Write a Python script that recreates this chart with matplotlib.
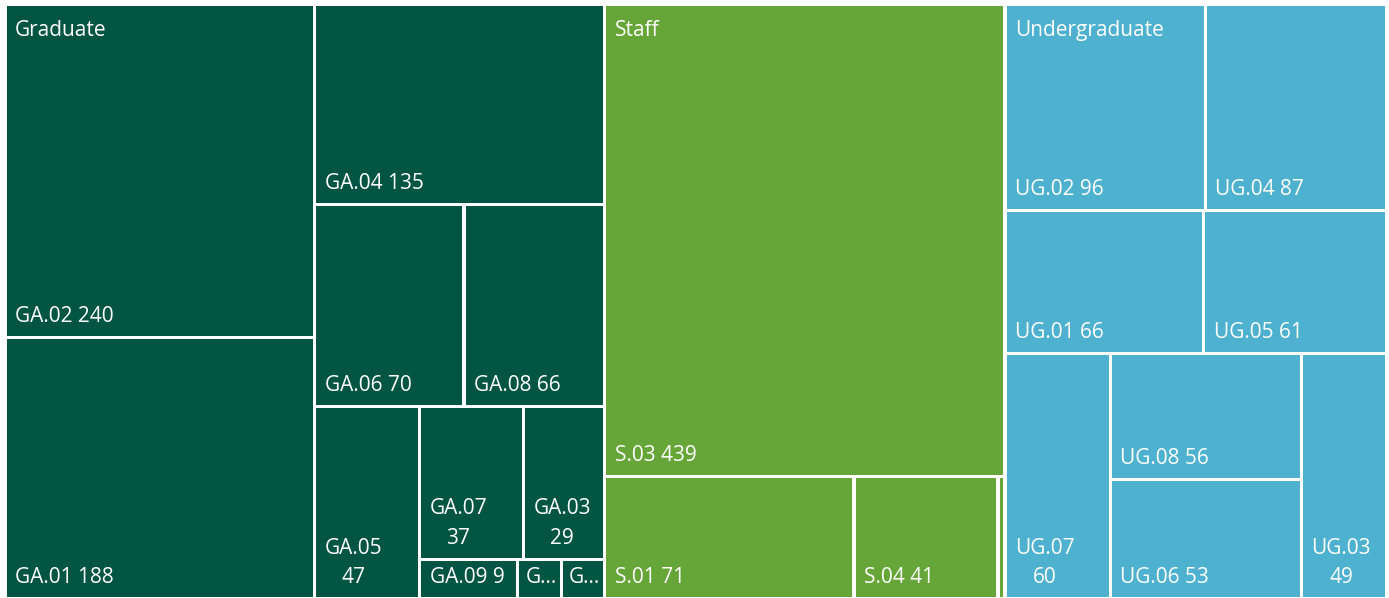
import matplotlib
matplotlib.use("Agg")
import matplotlib.pyplot as plt
from matplotlib.patches import Rectangle

# data: groups, leaf names and values
groups = ["Graduate", "Staff", "Undergraduate"]
grad_names = ["GA.02", "GA.01", "GA.04", "GA.06", "GA.08", "GA.05", "GA.07", "GA.03", "GA.09", "GA.10", "GA.11"]
grad_values = [240, 188, 135, 70, 66, 47, 37, 29, 9, 4, 4]
staff_names = ["S.03", "S.01", "S.04", "S.02"]
staff_values = [439, 71, 41, 2]
ug_names = ["UG.02", "UG.04", "UG.01", "UG.05", "UG.07", "UG.08", "UG.06", "UG.03"]
ug_values = [96, 87, 66, 61, 60, 56, 53, 49]

# how Excel grouped the leaves into strips
grad_strips = [["GA.02", "GA.01"], ["GA.04"], ["GA.06", "GA.08"], ["GA.05"],
               ["GA.07", "GA.03"], ["GA.09"], ["GA.10"], ["GA.11"]]
staff_strips = [["S.03"], ["S.01"], ["S.04"], ["S.02"]]
ug_strips = [["UG.02", "UG.04"], ["UG.01", "UG.05"], ["UG.07"], ["UG.08", "UG.06"], ["UG.03"]]

colors = {"Graduate": "#025443", "Staff": "#66A638", "Undergraduate": "#4DB1CF"}

W, H = 1389, 598
X0, Y0, PW, PH = 5, 4, 1382, 595
GAP = 3.2
FS = 15.0
FONT = "Open Sans"


def strip_layout(strips, vals, x, y, w, h):
    rects = {}
    remaining = sum(vals[n] for s in strips for n in s)
    for strip in strips:
        s = sum(vals[n] for n in strip)
        if w >= h:
            sw = w * s / remaining
            yy = y
            for n in strip:
                hh = h * vals[n] / s
                rects[n] = (x, yy, sw, hh)
                yy += hh
            x += sw
            w -= sw
        else:
            sh = h * s / remaining
            xx = x
            for n in strip:
                ww = w * vals[n] / s
                rects[n] = (xx, y, ww, sh)
                xx += ww
            y += sh
            h -= sh
        remaining -= s
    return rects


fig = plt.figure(figsize=(W / 100, H / 100), dpi=100)
ax = fig.add_axes([0, 0, 1, 1])
ax.set_xlim(0, W)
ax.set_ylim(H, 0)
ax.axis("off")
renderer = fig.canvas.get_renderer()

data = {
    "Graduate": (grad_names, grad_values, grad_strips),
    "Staff": (staff_names, staff_values, staff_strips),
    "Undergraduate": (ug_names, ug_values, ug_strips),
}
totals = {g: sum(data[g][1]) for g in groups}
group_rects = strip_layout([[g] for g in groups], totals, X0, Y0, PW, PH)


def text_width(s):
    t = ax.text(0, 0, s, fontsize=FS, family=FONT)
    w = t.get_window_extent(renderer).width
    t.remove()
    return w


for g in groups:
    names, values, strips = data[g]
    vals = dict(zip(names, values))
    gx, gy, gw, gh = group_rects[g]
    rects = strip_layout(strips, vals, gx, gy, gw, gh)
    for n in names:
        x, y, w, h = rects[n]
        cw, ch = w - GAP, h - GAP
        ax.add_patch(Rectangle((x + GAP / 2, y + GAP / 2), cw, ch,
                               facecolor=colors[g], edgecolor="none"))
        pad = min(8.5, cw * 0.15)
        avail = cw - 16
        one = f"{n} {vals[n]}"
        two = f"{n}\n{vals[n]}"
        if text_width(one) <= avail:
            label = one
        elif max(text_width(n), text_width(str(vals[n]))) <= avail:
            label = two
        elif cw > 25:
            label = n[0] + "\u2026"
        else:
            label = None
        if label:
            ax.text(x + GAP / 2 + pad, y + GAP / 2 + ch - 9, label, fontsize=FS,
                    family=FONT, color="white", ha="left", va="bottom",
                    multialignment="center", linespacing=1.55)
    ax.text(gx + GAP / 2 + 8.5, gy + GAP / 2 + 14, g, fontsize=FS, family=FONT,
            color="white", ha="left", va="top")

fig.savefig("out.png", dpi=100, facecolor="white")
